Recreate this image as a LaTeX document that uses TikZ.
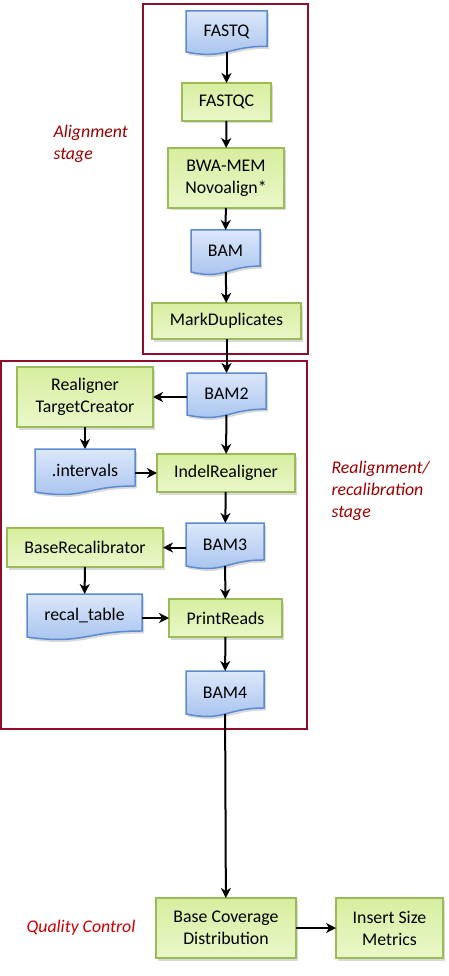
\documentclass[tikz,border=0pt]{standalone}
\usepackage{fontspec}
\setmainfont{Carlito}
\usetikzlibrary{arrows.meta,calc,shadows,backgrounds}
\definecolor{docline}{HTML}{5B8BD0}
\definecolor{doctop}{HTML}{DCE7FA}
\definecolor{docbottom}{HTML}{A4C1EE}
\definecolor{stepline}{HTML}{9BBB59}
\definecolor{steptop}{HTML}{D7EE9F}
\definecolor{stepbottom}{HTML}{EAF7C9}
\definecolor{framered}{HTML}{8E0E2A}
\definecolor{stagered}{HTML}{990000}
\definecolor{qcred}{HTML}{CC0000}
\newcommand{\docshape}[1]{%
\path[docfill] (#1.north west) -- (#1.north east)
  -- ($(#1.north east)!0.86!(#1.south east)$)
  .. controls ($(#1.north)!0.86!(#1.south)$) and ($(#1.north)!1.187!(#1.south)$) .. (#1.south west) -- cycle;}

\begin{document}
\begin{tikzpicture}[x=1pt,y=-1pt,
  every node/.style={font=\fontsize{17.8}{22}\selectfont},
  docnode/.style={rectangle,inner sep=0pt,outer sep=0pt,align=center},
  docfill/.style={draw=docline,line width=1.5pt,top color=doctop,bottom color=docbottom,
    drop shadow={shadow xshift=2pt,shadow yshift=-2.5pt,opacity=0.3}},
  stepbox/.style={rectangle,draw=stepline,line width=1.5pt,top color=steptop,bottom color=stepbottom,
    inner sep=0pt,outer sep=0pt,align=center,
    drop shadow={shadow xshift=2pt,shadow yshift=-2.5pt,opacity=0.3}},
  flow/.style={-{Stealth[length=10pt,width=10pt,inset=3pt]},line width=2pt},
  stageframe/.style={draw=framered,line width=1.3pt},
  stagelabel/.style={text=stagered,font=\fontsize{17.8}{22}\selectfont\itshape,align=left,anchor=west}]
\useasboundingbox (0,0) rectangle (449,976);
\draw[stageframe] (143,4) rectangle (308,354);
\draw[stageframe] (1,361) rectangle (307,729);
\node[docnode,minimum width=81pt,minimum height=41pt] (fastq) at (226.5,31.5) {FASTQ};
\node[stepbox,minimum width=89pt,minimum height=38pt] (fastqc) at (226.5,102) {FASTQC};
\node[stepbox,minimum width=116pt,minimum height=60pt] (bwa) at (226,178) {BWA-MEM\\Novoalign*};
\node[docnode,minimum width=69pt,minimum height=42pt] (bam) at (225.5,251) {BAM};
\node[stepbox,minimum width=149pt,minimum height=36pt] (markdup) at (226.5,321) {MarkDuplicates};
\node[docnode,minimum width=79pt,minimum height=42pt] (bam2) at (226.5,394) {BAM2};
\node[stepbox,minimum width=136pt,minimum height=60pt] (rtc) at (85,397) {Realigner\\TargetCreator};
\node[docnode,minimum width=100pt,minimum height=43pt] (intervals) at (85,470.5) {.intervals};
\node[stepbox,minimum width=138pt,minimum height=38pt] (indel) at (226,473) {IndelRealigner};
\node[docnode,minimum width=78pt,minimum height=43pt] (bam3) at (225,544.5) {BAM3};
\node[stepbox,minimum width=156pt,minimum height=39pt] (baserecal) at (85,547.5) {BaseRecalibrator};
\node[docnode,minimum width=115pt,minimum height=43pt] (recal) at (84.5,615.5) {recal\_table};
\node[stepbox,minimum width=113pt,minimum height=38pt] (printreads) at (225.5,618) {PrintReads};
\node[docnode,minimum width=78pt,minimum height=43pt] (bam4) at (225,692.5) {BAM4};
\node[stepbox,minimum width=140pt,minimum height=60pt] (basecov) at (226,928) {Base Coverage\\Distribution};
\node[stepbox,minimum width=107pt,minimum height=60pt] (insertsize) at (389.5,928) {Insert Size\\Metrics};
\node[stagelabel] (alignlabel) at (50,144) {Alignment\\stage};
\node[stagelabel] (realignlabel) at (328,491) {Realignment/\\recalibration\\stage};
\node[stagelabel,text=qcred] (qclabel) at (23,928) {Quality Control};
\begin{scope}[on background layer]
\docshape{fastq}
\docshape{bam}
\docshape{bam2}
\docshape{intervals}
\docshape{bam3}
\docshape{recal}
\docshape{bam4}
\end{scope}
\draw[flow] (fastq) -- (fastqc);
\draw[flow] (fastqc) -- (bwa);
\draw[flow] (bwa) -- (bam);
\draw[flow] (bam) -- (markdup);
\draw[flow] (markdup) -- (bam2);
\draw[flow] (bam2.west |- rtc) -- (rtc);
\draw[flow] (rtc) -- (intervals);
\draw[flow] (intervals.east |- indel) -- (indel);
\draw[flow] (bam2) -- (indel);
\draw[flow] (indel) -- (bam3);
\draw[flow] (bam3.west |- baserecal) -- (baserecal);
\draw[flow] (baserecal) -- (recal);
\draw[flow] (recal.east |- printreads) -- (printreads);
\draw[flow] (bam3) -- (printreads);
\draw[flow] (printreads) -- (bam4);
\draw[flow] (bam4) -- (basecov);
\draw[flow] (basecov) -- (insertsize);
\end{tikzpicture}
\end{document}
